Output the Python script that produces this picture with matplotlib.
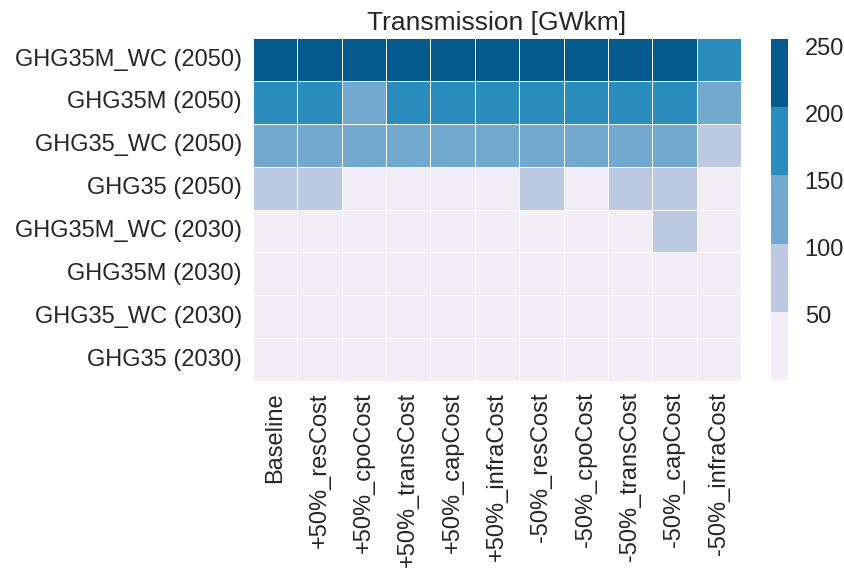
import numpy as np
import pandas as pd
import matplotlib
matplotlib.use("Agg")
import matplotlib.pyplot as plt
import seaborn as sns
from matplotlib.colors import ListedColormap

# scenarios (rows) and sensitivity cases (columns)
scenarios = ['GHG35M_WC (2050)', 'GHG35M (2050)', 'GHG35_WC (2050)', 'GHG35 (2050)',
             'GHG35M_WC (2030)', 'GHG35M (2030)', 'GHG35_WC (2030)', 'GHG35 (2030)']
cases = ['Baseline', '+50%_resCost', '+50%_cpoCost', '+50%_transCost', '+50%_capCost',
         '+50%_infraCost', '-50%_resCost', '-50%_cpoCost', '-50%_transCost',
         '-50%_capCost', '-50%_infraCost']

# transmission values [GWkm], estimated from the colour classes
ghg35m_wc_2050 = [250, 245, 240, 248, 252, 250, 247, 249, 251, 255.5, 190]
ghg35m_2050 = [185, 180, 140, 178, 176, 175, 182, 179, 177, 186, 130]
ghg35_wc_2050 = [130, 128, 125, 127, 126, 124, 132, 129, 131, 133, 80]
ghg35_2050 = [75, 70, 40, 35, 38, 36, 78, 42, 72, 74, 30]
ghg35m_wc_2030 = [10, 10, 10, 10, 10, 10, 10, 10, 10, 60, 10]
ghg35m_2030 = [5, 5, 5, 5, 5, 5, 5, 5, 5, 5, 5]
ghg35_wc_2030 = [3, 3, 3, 3, 3, 3, 3, 3, 3, 3, 3]
ghg35_2030 = [1.5, 1.5, 1.5, 1.5, 1.5, 1.5, 1.5, 1.5, 1.5, 1.5, 1.5]

df = pd.DataFrame([ghg35m_wc_2050, ghg35m_2050, ghg35_wc_2050, ghg35_2050,
                   ghg35m_wc_2030, ghg35m_2030, ghg35_wc_2030, ghg35_2030],
                  index=scenarios, columns=cases)

sns.set_style('white')
plt.rcParams['font.family'] = ['Liberation Sans', 'DejaVu Sans']
plt.rcParams['text.color'] = '#262626'
plt.rcParams['xtick.color'] = '#262626'
plt.rcParams['ytick.color'] = '#262626'

fig = plt.figure(figsize=(8.45, 5.73), dpi=100)
ax = fig.add_axes([0.2994, 0.335, 0.5775, 0.5985])
cax = fig.add_axes([0.9124, 0.337, 0.0201, 0.595])

# 5-class PuBu (ColorBrewer)
cmap = ListedColormap(['#f1eef6', '#bdc9e1', '#74a9cf', '#2b8cbe', '#045a8d'])
sns.heatmap(df, ax=ax, cbar_ax=cax, cmap=cmap, linewidths=0.6, linecolor='#f8f8fb')

ax.set_title('Transmission [GWkm]', fontsize=19, pad=6)
ax.tick_params(axis='both', length=0, labelsize=17, pad=8)
ax.set_xticklabels(cases, rotation=90)
ax.set_yticklabels(scenarios, rotation=0)

cax.set_yticks([50, 100, 150, 200, 250])
cax.tick_params(length=0, labelsize=17, pad=12)

fig.savefig('out.png', dpi=100)
